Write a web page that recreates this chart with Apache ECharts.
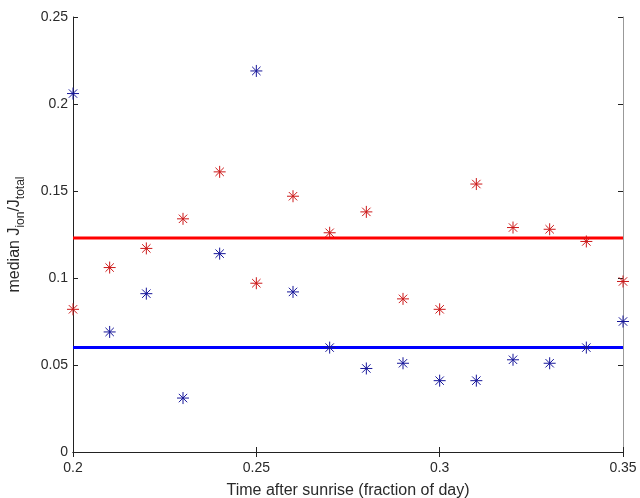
<!DOCTYPE html>
<html>
<head>
<meta charset="utf-8">
<script src="https://cdn.jsdelivr.net/npm/echarts@6/dist/echarts.min.js"></script>
<style>
  html, body { margin: 0; padding: 0; background: #fff; }
  #chart { width: 640px; height: 498px; }
</style>
</head>
<body>
<div id="chart"></div>
<script>
// times after sunrise (fraction of day)
var times = [0.20, 0.21, 0.22, 0.23, 0.24, 0.25, 0.26, 0.27, 0.28, 0.29, 0.30, 0.31, 0.32, 0.33, 0.34, 0.35];
var redValues = [0.082, 0.106, 0.117, 0.134, 0.161, 0.097, 0.147, 0.126, 0.138, 0.088, 0.082, 0.154, 0.129, 0.128, 0.121, 0.098];
var blueValues = [0.206, 0.069, 0.091, 0.031, 0.114, 0.219, 0.092, 0.060, 0.048, 0.051, 0.041, 0.041, 0.053, 0.051, 0.060, 0.075];
var redMedian = 0.123;
var blueMedian = 0.060;

var star = 'path://M0,5L10,5M5,0L5,10M1.5,1.5L8.5,8.5M8.5,1.5L1.5,8.5';

function pairs(xs, ys) {
  return xs.map(function (x, i) { return [x, ys[i]]; });
}

var chart = echarts.init(document.getElementById('chart'));
var font = 'Liberation Sans, Arial, sans-serif';
var txt = '#2a2a2a';
var axisLine = { show: true, lineStyle: { color: '#222', width: 1 } };
var fmt = function (v) { return String(+v.toFixed(2)); };

chart.setOption({
  animation: false,
  grid: { left: 73, right: 17, top: 17, bottom: 46, outerBoundsMode: 'none', containLabel: false },
  xAxis: [{
    type: 'value', min: 0.2, max: 0.35, interval: 0.05,
    axisLine: axisLine,
    axisTick: { inside: true, length: 5, lineStyle: { color: '#222' } },
    axisLabel: { color: txt, fontFamily: font, fontSize: 14, margin: 9, formatter: fmt },
    splitLine: { show: false },
    name: 'Time after sunrise (fraction of day)',
    nameLocation: 'middle', nameGap: 31,
    nameTextStyle: { color: txt, fontFamily: font, fontSize: 16 }
  }, {
    type: 'value', position: 'top', min: 0.2, max: 0.35, interval: 0.05,
    axisLine: axisLine,
    axisTick: { inside: true, length: 5, lineStyle: { color: '#222' } },
    axisLabel: { show: false }, splitLine: { show: false }
  }],
  yAxis: [{
    type: 'value', min: 0, max: 0.25, interval: 0.05,
    axisLine: axisLine,
    axisTick: { inside: true, length: 5, lineStyle: { color: '#222' } },
    axisLabel: { color: txt, fontFamily: font, fontSize: 14, margin: 5, formatter: fmt },
    splitLine: { show: false },
    name: '{a|median J}{s|ion}{a|/J}{s|total}',
    nameLocation: 'middle', nameGap: 50,
    nameTextStyle: {
      color: txt, fontFamily: font,
      rich: {
        a: { fontSize: 16, fontFamily: font, color: txt, lineHeight: 16, verticalAlign: 'top' },
        s: { fontSize: 12, fontFamily: font, color: txt, lineHeight: 12, padding: [8, 0, 0, 0], verticalAlign: 'top' }
      }
    }
  }, {
    type: 'value', position: 'right', min: 0, max: 0.25, interval: 0.05,
    axisLine: { show: true, lineStyle: { color: '#999', width: 1 } },
    axisTick: { inside: true, length: 5, lineStyle: { color: '#222' } },
    axisLabel: { show: false }, splitLine: { show: false }
  }],
  series: [{
    type: 'line', data: [[0.2, redMedian], [0.35, redMedian]],
    symbol: 'none', lineStyle: { color: '#ff0000', width: 3 }, z: 1
  }, {
    type: 'line', data: [[0.2, blueMedian], [0.35, blueMedian]],
    symbol: 'none', lineStyle: { color: '#0000ff', width: 3 }, z: 1
  }, {
    type: 'scatter', data: pairs(times, redValues),
    symbol: star, symbolSize: 12,
    itemStyle: { color: 'none', borderColor: '#cc1818', borderWidth: 1, opacity: 1 }, z: 3
  }, {
    type: 'scatter', data: pairs(times, blueValues),
    symbol: star, symbolSize: 12,
    itemStyle: { color: 'none', borderColor: '#16169a', borderWidth: 1, opacity: 1 }, z: 3
  }]
});
</script>
</body>
</html>
